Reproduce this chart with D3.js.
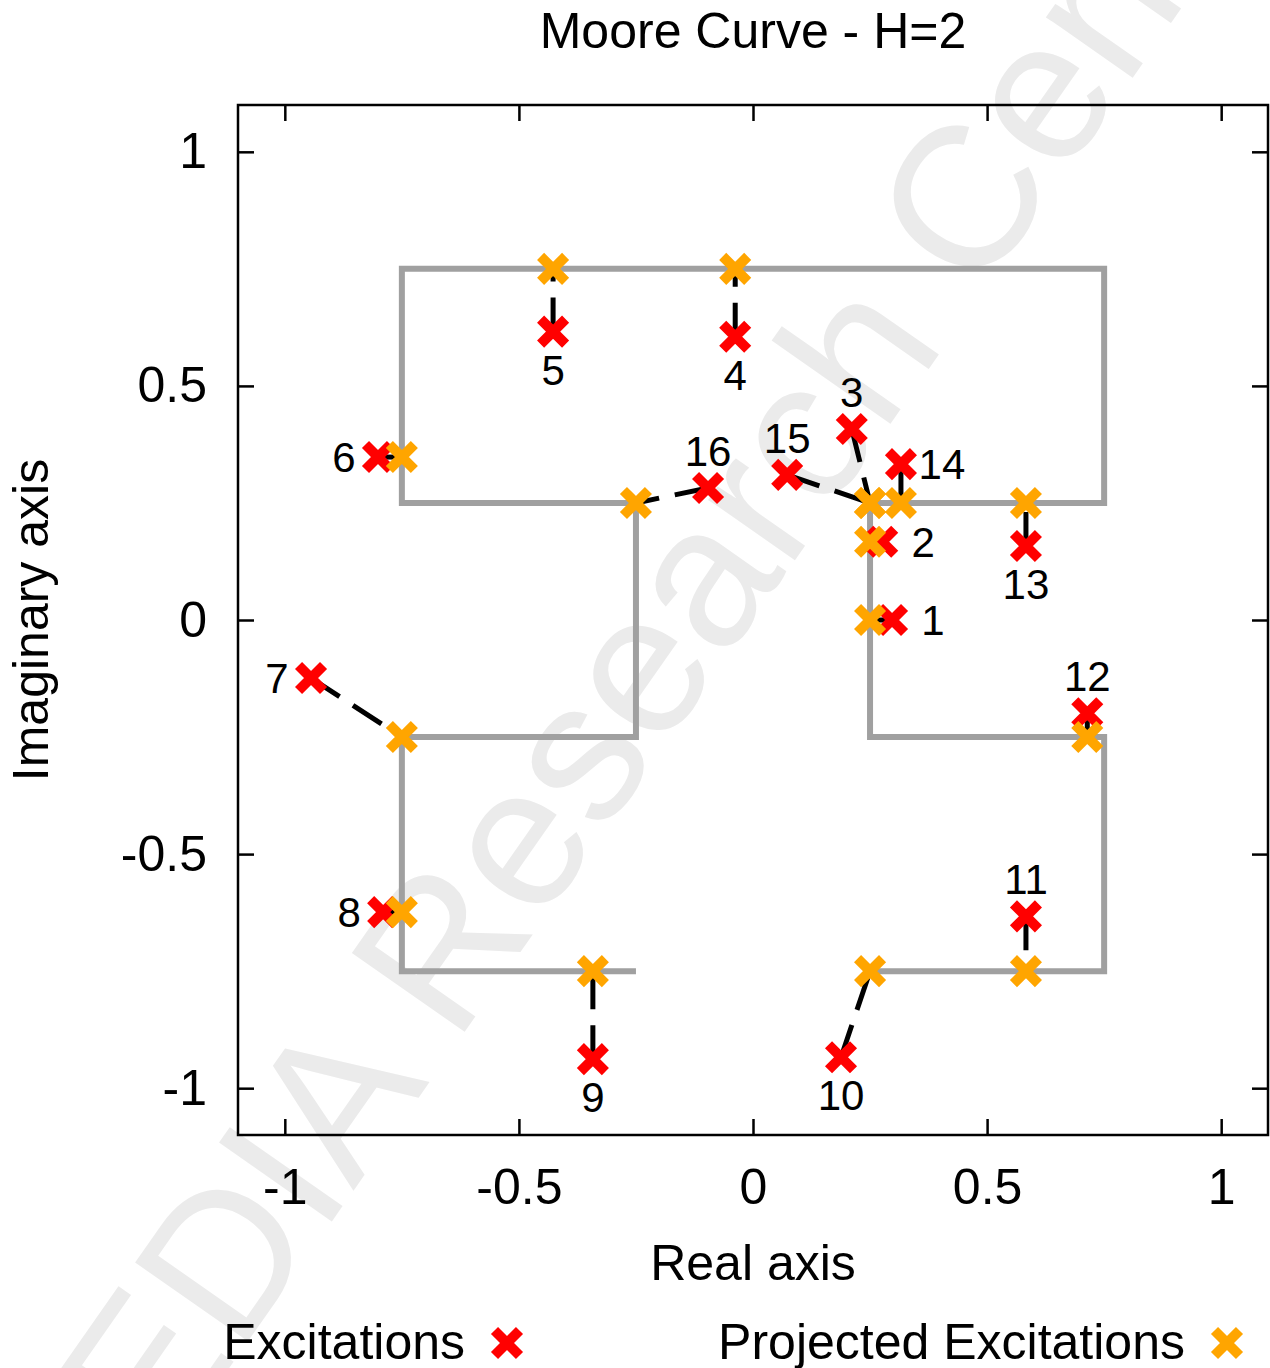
<!DOCTYPE html>
<html><head><meta charset="utf-8">
<script src="https://cdn.jsdelivr.net/npm/d3@7"></script>
<style>body{margin:0;background:#fff;} svg text{font-family:"Liberation Sans",Arial,Helvetica,sans-serif;}</style>
</head><body><svg id="chart" width="1270" height="1368"></svg>
<script>
// ---------- data ----------
const pointLabels = ["1","2","3","4","5","6","7","8","9","10","11","12","13","14","15","16"];
const excRe  = [0.297, 0.276, 0.211, -0.038, -0.427, -0.801, -0.944, -0.790, -0.342, 0.188, 0.583, 0.714, 0.583, 0.316, 0.073, -0.096];
const excIm  = [0.000, 0.167, 0.408,  0.605,  0.616,  0.348, -0.124, -0.624, -0.938, -0.934, -0.633, -0.199, 0.158, 0.333, 0.310, 0.282];
const projRe = [0.250, 0.250, 0.250, -0.038, -0.427, -0.750, -0.750, -0.750, -0.342, 0.250, 0.583, 0.714, 0.583, 0.316, 0.250, -0.250];
const projIm = [0.000, 0.167, 0.250,  0.750,  0.750,  0.348, -0.250, -0.624, -0.750, -0.750, -0.750, -0.250, 0.250, 0.250, 0.250, 0.250];
const curveRe = [-0.25, -0.75, -0.75, -0.25, -0.25, -0.75, -0.75, 0.75, 0.75, 0.25, 0.25, 0.75, 0.75, 0.25];
const curveIm = [-0.75, -0.75, -0.25, -0.25,  0.25,  0.25,  0.75, 0.75, 0.25, 0.25, -0.25, -0.25, -0.75, -0.75];
const tickValues = [-1, -0.5, 0, 0.5, 1];
const tickLabels = ["-1", "-0.5", "0", "0.5", "1"];
const titleText = "Moore Curve - H=2";
const xLabel = "Real axis";
const yLabel = "Imaginary axis";
const seriesNames = ["Excitations", "Projected Excitations"];
const watermarkText = "EDIA Research Center";

// label placement relative to each excitation marker
const labelSide = ["right","right","above","below","below","left","left","left","below","below","above","above","below","right","above","above"];

// ---------- drawing ----------
const svg = d3.select("#chart");
const W = 1270, H = 1368;
const L = 238, R = 1268, T = 105, B = 1135;
const x = d3.scaleLinear().domain([-1.1, 1.1]).range([L, R]);
const y = d3.scaleLinear().domain([-1.1, 1.1]).range([B, T]);
const RED = "#ff0000", ORANGE = "#ffa500";

svg.append("rect").attr("width", W).attr("height", H).attr("fill", "#fff");

// watermark
svg.append("text")
  .attr("transform", "translate(162,1464) rotate(-55)")
  .attr("font-size", 200)
  .attr("fill", "#ebebeb")
  .text(watermarkText);

// axes
const fmt = d => tickLabels[tickValues.indexOf(d)];
function styleAxis(g, showLabels) {
  g.select(".domain").remove();
  g.selectAll(".tick line").attr("stroke", "#000").attr("stroke-width", 2.5);
  if (showLabels) g.selectAll(".tick text").attr("font-size", 50).attr("fill", "#000");
  else g.selectAll(".tick text").remove();
}
svg.append("g").attr("transform", `translate(0,${B})`)
  .call(d3.axisBottom(x).tickValues(tickValues).tickFormat(fmt).tickSizeInner(-16).tickSizeOuter(0).tickPadding(33))
  .call(g => styleAxis(g, true));
svg.append("g").attr("transform", `translate(0,${T})`)
  .call(d3.axisTop(x).tickValues(tickValues).tickSizeInner(-16).tickSizeOuter(0))
  .call(g => styleAxis(g, false));
svg.append("g").attr("transform", `translate(${L},0)`)
  .call(d3.axisLeft(y).tickValues(tickValues).tickFormat(fmt).tickSizeInner(-16).tickSizeOuter(0).tickPadding(31))
  .call(g => styleAxis(g, true));
svg.append("g").attr("transform", `translate(${R},0)`)
  .call(d3.axisRight(y).tickValues(tickValues).tickSizeInner(-16).tickSizeOuter(0))
  .call(g => styleAxis(g, false));

// Moore curve
const curvePts = curveRe.map((v, i) => [v, curveIm[i]]);
svg.append("path")
  .attr("d", d3.line().x(d => x(d[0])).y(d => y(d[1]))(curvePts))
  .attr("fill", "none").attr("stroke", "#a0a0a0").attr("stroke-width", 6)
  .attr("stroke-linejoin", "miter").attr("stroke-linecap", "butt");

// dashed connectors (start at excitation)
const idx = d3.range(excRe.length);
svg.append("g").selectAll("line").data(idx).join("line")
  .attr("x1", i => x(excRe[i])).attr("y1", i => y(excIm[i]))
  .attr("x2", i => x(projRe[i])).attr("y2", i => y(projIm[i]))
  .attr("stroke", "#000").attr("stroke-width", 5)
  .attr("stroke-dasharray", "34,16").attr("stroke-linecap", "butt");

// markers
const s = 12.5;
const crossPath = `M${-s},${-s}L${s},${s}M${-s},${s}L${s},${-s}`;
function drawCross(g, cx, cy, color) {
  g.append("path").attr("d", crossPath)
    .attr("transform", `translate(${cx},${cy})`)
    .attr("fill", "none").attr("stroke", color).attr("stroke-width", 10)
    .attr("stroke-linecap", "butt");
}
const gRed = svg.append("g");
idx.forEach(i => drawCross(gRed, x(excRe[i]), y(excIm[i]), RED));
const gOr = svg.append("g");
idx.forEach(i => drawCross(gOr, x(projRe[i]), y(projIm[i]), ORANGE));

// point labels (centred at an offset from the excitation marker)
svg.append("g").selectAll("text").data(idx).join("text")
  .attr("font-size", 42).attr("fill", "#000")
  .attr("text-anchor", "middle")
  .attr("x", i => {
    const px = x(excRe[i]);
    if (labelSide[i] === "right") return px + 41;
    if (labelSide[i] === "left") return px - 34;
    return px;
  })
  .attr("y", i => {
    const py = y(excIm[i]);
    if (labelSide[i] === "above") return py - 37;
    if (labelSide[i] === "below") return py + 38;
    return py;
  })
  .attr("dy", "0.36em")
  .text(i => pointLabels[i]);

// frame
svg.append("rect").attr("x", L).attr("y", T).attr("width", R - L).attr("height", B - T)
  .attr("fill", "none").attr("stroke", "#000").attr("stroke-width", 2.5);

// title and axis labels
svg.append("text").attr("x", 753).attr("y", 48).attr("text-anchor", "middle")
  .attr("font-size", 50).text(titleText);
svg.append("text").attr("x", 753).attr("y", 1280).attr("text-anchor", "middle")
  .attr("font-size", 50).text(xLabel);
svg.append("text").attr("transform", "translate(48,620) rotate(-90)").attr("text-anchor", "middle")
  .attr("font-size", 50).text(yLabel);

// legend
const legendItems = [
  {name: seriesNames[0], color: RED, textEnd: 465, mx: 507},
  {name: seriesNames[1], color: ORANGE, textEnd: 1185, mx: 1227}
];
legendItems.forEach(it => {
  svg.append("text").attr("x", it.textEnd).attr("y", 1359).attr("text-anchor", "end")
    .attr("font-size", 50).text(it.name);
  drawCross(svg, it.mx, 1343, it.color);
});
</script>
</body></html>
